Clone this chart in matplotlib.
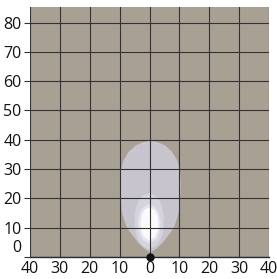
import numpy as np
import matplotlib
matplotlib.use('Agg')
import matplotlib.pyplot as plt
import matplotlib.transforms as mtransforms

# beam outlines: (height, half width), center offset per level
level_colors = ['#c7c4ce', '#d5d3dd', '#e5e3eb', '#fafafc']
outer_y = [1.5, 3, 5, 10, 15, 20, 25, 30, 33, 36, 38, 39.2, 39.7]
outer_w = [0, 2.2, 4.2, 7.9, 9.5, 10.0, 10.2, 9.8, 9.0, 7.2, 5.0, 2.4, 0]
mid_y = [2.5, 4, 7, 10, 14, 17, 19.5, 21, 21.8]
mid_w = [0, 2.6, 4.2, 4.8, 4.9, 4.4, 3.4, 2.0, 0]
inner_y = [4.5, 6, 9, 12, 15, 17, 18.2]
inner_w = [0, 2.4, 3.6, 3.8, 3.2, 2.0, 0]
core_y = [5.5, 7, 9, 12, 14.5, 16.2, 17]
core_w = [0, 2.0, 2.8, 3.0, 2.6, 1.6, 0]
centers = [0.3, -0.1, -0.1, 0.0]
profiles = [(outer_y, outer_w), (mid_y, mid_w), (inner_y, inner_w), (core_y, core_w)]

x_ticks = [-40, -30, -20, -10, 0, 10, 20, 30, 40]
x_labels = ['40', '30', '20', '10', '0', '10', '20', '30', '40']
y_ticks = [0, 10, 20, 30, 40, 50, 60, 70, 80]


def smooth_outline(ys, ws, cx, n=200):
    # fill in the read-off profile and soften the corners a little
    t = np.linspace(0, 1, len(ys))
    tt = np.linspace(0, 1, n)
    y = np.interp(tt, t, ys)
    w = np.interp(tt, t, ws)
    k = np.ones(7) / 7
    w = np.convolve(np.pad(w, 3, mode='edge'), k, mode='valid')
    w[0] = 0
    w[-1] = 0
    xs = np.concatenate([cx + w, (cx - w)[::-1]])
    yy = np.concatenate([y, y[::-1]])
    return xs, yy


fig = plt.figure(figsize=(2.77, 2.79), dpi=100)
ax = fig.add_axes([30 / 277, 22 / 279, 239 / 277, 250 / 279])
ax.set_facecolor('#a9a094')

for (ys, ws), cx, col in zip(profiles, centers, level_colors):
    xs, yy = smooth_outline(ys, ws, cx)
    ax.fill(xs, yy, color=col, lw=0, zorder=1)

ax.set_xlim(-40, 40)
ax.set_ylim(0, 85.3)
ax.set_xticks(x_ticks)
ax.set_xticklabels(x_labels)
ax.set_yticks(y_ticks)
ax.set_yticklabels([str(v) for v in y_ticks])
ax.grid(True, color='#333333', lw=0.8, zorder=2)
ax.set_axisbelow(False)

for s in ['top', 'left', 'right']:
    ax.spines[s].set_visible(False)
ax.spines['bottom'].set_color('#2a2a2a')
ax.spines['bottom'].set_linewidth(1.0)

ax.tick_params(axis='x', length=0, pad=3, labelsize=11.5)
ax.tick_params(axis='y', length=4, width=0.8, color='#333333', pad=2, labelsize=11.5)
for lab in ax.get_xticklabels() + ax.get_yticklabels():
    lab.set_family('Open Sans')
    lab.set_color('#111111')

# the "0" label sits a bit above the baseline
zero_lab = ax.get_yticklabels()[0]
zero_lab.set_transform(zero_lab.get_transform() + mtransforms.ScaledTranslation(0, 8 / 72, fig.dpi_scale_trans))

ax.plot([0], [0], 'o', color='#111111', ms=5, clip_on=False, zorder=5)

fig.savefig('out.png', dpi=100)
